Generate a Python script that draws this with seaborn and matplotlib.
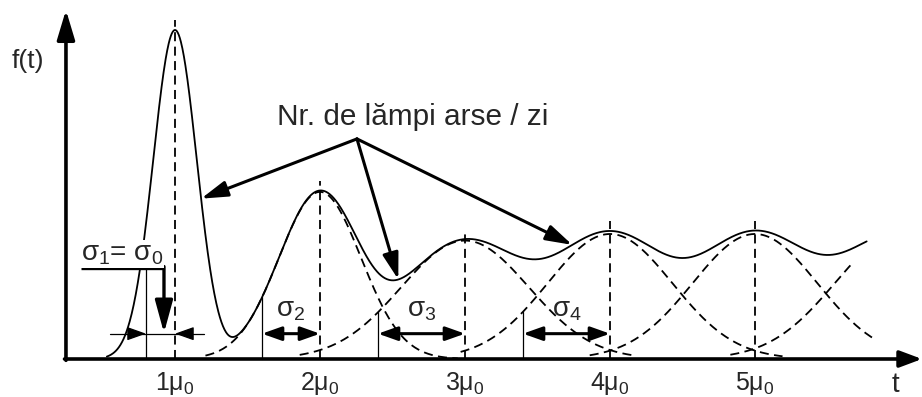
import numpy as np
import pandas as pd
import matplotlib
matplotlib.use("Agg")
import matplotlib.pyplot as plt
import seaborn as sns

# Renewal components: order k is centred at k*mu0 (time in units of mu0)
component_mean = [1, 2, 3, 4, 5, 6]
component_peak = [1.00, 0.508, 0.36, 0.38, 0.38, 0.38]
component_sigma = [0.15, 0.283, 0.44, 0.43, 0.43, 0.45]
# visible stretch of each dashed component (order 1 is drawn only as the solid curve)
dashed_start = [None, 1.21, 1.86, 2.97, 3.86, 4.83]
dashed_end = [None, 2.95, 4.16, 5.19, 5.81, 5.68]
solid_start, solid_end = 0.53, 5.77
envelope_power = 1.5

tick_positions = [1, 2, 3, 4, 5]
tick_labels = ["1μ$_0$", "2μ$_0$", "3μ$_0$", "4μ$_0$", "5μ$_0$"]

# spread shown for the first four orders
sigma_labels = ["σ$_1$= σ$_0$", "σ$_2$", "σ$_3$", "σ$_4$"]
sigma_width = [0.20, 0.40, 0.60, 0.60]

callout_text = "Nr. de lămpi arse / zi"
callout_targets = [1.18, 2.54, 3.74]

sns.set_theme(style="white")
plt.rcParams["font.family"] = ["Liberation Sans", "DejaVu Sans"]
plt.rcParams["mathtext.fontset"] = "custom"
plt.rcParams["mathtext.rm"] = "Liberation Sans"
plt.rcParams["mathtext.it"] = "Liberation Sans"
plt.rcParams["mathtext.default"] = "regular"


def component(k, t):
    i = k - 1
    return component_peak[i] * np.exp(-(t - component_mean[i]) ** 2 / (2 * component_sigma[i] ** 2))


def envelope(t):
    t = np.asarray(t, dtype=float)
    s = sum(component(k, t) ** envelope_power for k in component_mean)
    return s ** (1.0 / envelope_power)


fig = plt.figure(figsize=(9.22, 3.97), dpi=100)
ax = fig.add_axes([0, 0, 1, 1])
ax.set_xlim(-0.2069, 6.1517)
ax.set_ylim(-0.1155, 1.0912)
ax.set_axis_off()

x0 = 0.248  # position of the ordinate axis
LW_CURVE = 1.3
DASH = (5.0, 3.0)

# dashed components
rows = []
for k, a, b in zip(component_mean, dashed_start, dashed_end):
    if a is None:
        continue
    tt = np.linspace(a, b, 300)
    rows.append(pd.DataFrame({"t": tt, "f": component(k, tt), "order": k}))
dashed_df = pd.concat(rows, ignore_index=True)
for k, g in dashed_df.groupby("order"):
    sns.lineplot(data=g, x="t", y="f", ax=ax, color="black", lw=LW_CURVE,
                 estimator=None, sort=False, zorder=3)
for line in ax.lines:
    line.set_dashes(DASH)

# solid total curve
ts = np.linspace(solid_start, solid_end, 1500)
solid_df = pd.DataFrame({"t": ts, "f": envelope(ts)})
sns.lineplot(data=solid_df, x="t", y="f", ax=ax, color="black", lw=LW_CURVE,
             estimator=None, sort=False, zorder=4)

# dashed verticals at each k*mu0
for k in tick_positions:
    top = envelope(k) + 0.03
    ax.plot([k, k], [0, top], color="black", lw=LW_CURVE, dashes=DASH, zorder=3)

# axes with arrow heads
ax.annotate("", xy=(6.1517, 0), xytext=(x0 - 0.01, 0),
            arrowprops=dict(arrowstyle="-|>,head_length=0.75,head_width=0.28",
                            mutation_scale=18, lw=2.6, color="black",
                            shrinkA=0, shrinkB=0), zorder=6)
ax.annotate("", xy=(x0, 1.061), xytext=(x0, -0.004),
            arrowprops=dict(arrowstyle="-|>,head_length=1.0,head_width=0.3",
                            mutation_scale=18, lw=2.6, color="black",
                            shrinkA=0, shrinkB=0), zorder=6)

# tick labels and axis names
for p, lab in zip(tick_positions, tick_labels):
    ax.text(p, -0.094, lab, ha="center", va="baseline", fontsize=18)
ax.text(5.966, -0.100, "t", ha="center", va="baseline", fontsize=20)
ax.text(-0.014, 0.906, "f(t)", ha="center", va="center", fontsize=19)

# sigma markers
arrow_y = 0.077
small_head = dict(arrowstyle="-|>,head_length=0.9,head_width=0.32",
                  mutation_scale=13, lw=2.2, color="black", shrinkA=0, shrinkB=0)
sigma_tick_top = [0.29, component(2, 2 - sigma_width[1]),
                  component(3, 3 - sigma_width[2]), component(4, 4 - sigma_width[3])]
for i, (w, lab) in enumerate(zip(sigma_width, sigma_labels)):
    centre = i + 1
    left = centre - w
    ax.plot([left, left], [0, sigma_tick_top[i]], color="black", lw=0.9, zorder=4)
    if i == 0:
        # outside arrows pointing inwards
        ax.plot([left - 0.25, centre + 0.2], [arrow_y, arrow_y], color="black", lw=0.9, zorder=4)
        ax.annotate("", xy=(left, arrow_y), xytext=(left - 0.1, arrow_y),
                    arrowprops=dict(small_head, lw=0.9), zorder=5)
        ax.annotate("", xy=(centre, arrow_y), xytext=(centre + 0.1, arrow_y),
                    arrowprops=dict(small_head, lw=0.9), zorder=5)
        ax.text(0.352, 0.300, lab, ha="left", va="baseline", fontsize=20, zorder=7,
                bbox=dict(facecolor="white", edgecolor="none", pad=0.5))
        # bent pointer to the spread
        bend_x = 0.924
        ax.plot([0.352, bend_x], [0.277, 0.277], color="black", lw=2.4,
                solid_capstyle="butt", zorder=6)
        ax.annotate("", xy=(bend_x, 0.079), xytext=(bend_x, 0.277 + 0.004),
                    arrowprops=dict(arrowstyle="-|>,head_length=1.1,head_width=0.3",
                                    mutation_scale=18, lw=2.4, color="black",
                                    shrinkA=0, shrinkB=0), zorder=6)
    else:
        ax.annotate("", xy=(centre, arrow_y), xytext=(left, arrow_y),
                    arrowprops=dict(arrowstyle="<|-|>,head_length=0.9,head_width=0.32",
                                    mutation_scale=13, lw=2.2, color="black",
                                    shrinkA=0, shrinkB=0), zorder=5)
        ax.text(centre - w / 2, 0.128, lab, ha="center", va="baseline", fontsize=20, zorder=7)

# call-out text with arrows to the total curve
origin = (2.255, 0.669)
ax.text(2.64, 0.711, callout_text, ha="center", va="baseline", fontsize=21.4)
for tx in callout_targets:
    ax.annotate("", xy=(tx, float(envelope(tx))), xytext=origin,
                arrowprops=dict(arrowstyle="-|>,head_length=1.0,head_width=0.3",
                                mutation_scale=16, lw=2.2, color="black",
                                shrinkA=0, shrinkB=0), zorder=6)

fig.savefig("out.png", dpi=100)
